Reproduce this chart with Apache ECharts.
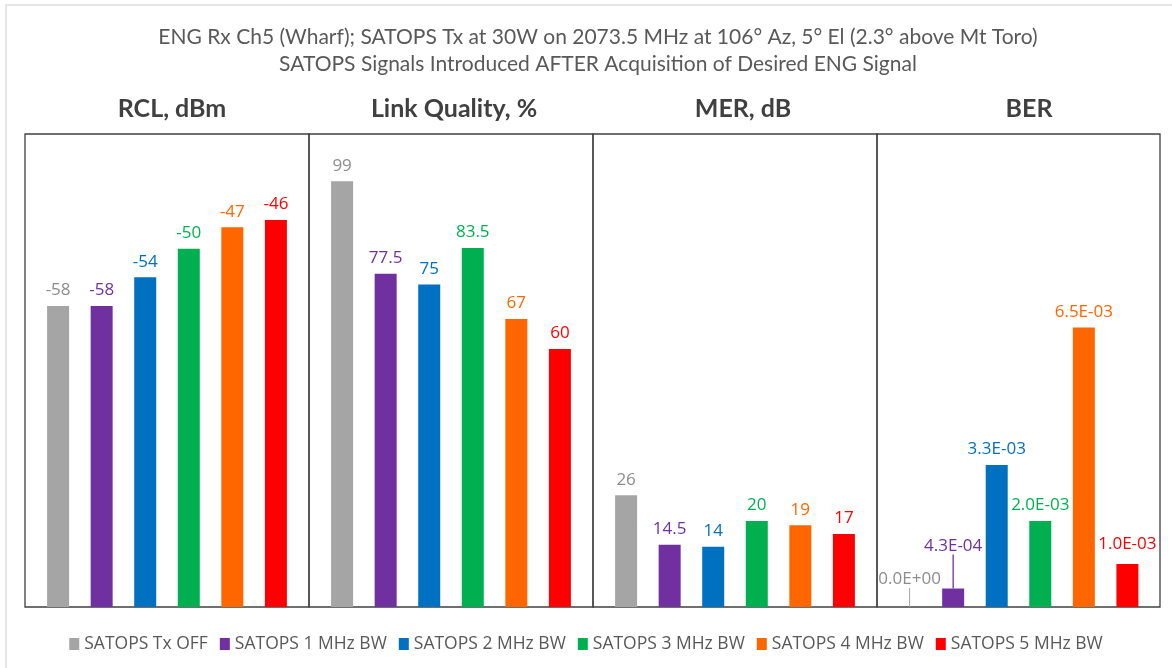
<!DOCTYPE html>
<html>
<head>
<meta charset="utf-8">
<script src="https://cdn.jsdelivr.net/npm/echarts@6/dist/echarts.min.js"></script>
<style>
html,body{margin:0;padding:0;background:#fff;}
#chart{width:1172px;height:668px;}
</style>
</head>
<body>
<div id="chart"></div>
<script>
const seriesNames = ['SATOPS Tx OFF','SATOPS 1 MHz BW','SATOPS 2 MHz BW','SATOPS 3 MHz BW','SATOPS 4 MHz BW','SATOPS 5 MHz BW'];
const seriesColors = ['#A5A5A5','#7030A0','#0070C0','#00B050','#FF6600','#FF0000'];
const labelColors = ['#8C8C8C','#7030A0','#0070C0','#00B050','#FF6600','#FF0000'];
const panelTitles = ['RCL, dBm','Link Quality, %','MER, dB','BER'];
const rclValues = [-58,-58,-54,-50,-47,-46];
const linkQualityValues = [99,77.5,75,83.5,67,60];
const merValues = [26,14.5,14,20,19,17];
const berValues = [0,4.3e-4,3.3e-3,2.0e-3,6.5e-3,1.0e-3];
const titleLines = ['ENG Rx Ch5 (Wharf); SATOPS Tx at 30W on 2073.5 MHz at 106° Az, 5° El (2.3° above Mt Toro)','SATOPS Signals Introduced AFTER Acquisition of Desired ENG Signal'];

const panelData = [rclValues, linkQualityValues, merValues, berValues];
const axisRanges = [{min:-100,max:-34,startValue:-100},{min:0,max:110},{min:0,max:110},{min:0,max:0.011}];
const panelEdges = [25,309,593,877,1160];
const headerCenters = [167,449,738,1024];

function sci(v){
  if (v === 0) return '0.0E+00';
  let e = Math.floor(Math.log10(Math.abs(v)));
  let m = v/Math.pow(10,e);
  if (Math.round(m*10)/10 >= 10){ m/=10; e+=1; }
  const sign = e<0?'-':'+';
  const ae = Math.abs(e);
  return m.toFixed(1)+'E'+sign+(ae<10?'0':'')+ae;
}

const W = 1172, H = 668;
const grids = [], xAxes = [], yAxes = [], series = [];
for (let p=0;p<4;p++){
  grids.push({left:panelEdges[p], width:panelEdges[p+1]-panelEdges[p], top:134, bottom:H-607,
    show:true, borderColor:'#404040', borderWidth:1.3, backgroundColor:'transparent', containLabel:false});
  xAxes.push({type:'category', gridIndex:p, data:[''], axisLine:{show:false}, axisTick:{show:false}, axisLabel:{show:false}, splitLine:{show:false}});
  const ya = Object.assign({type:'value', gridIndex:p, axisLine:{show:false}, axisTick:{show:false}, axisLabel:{show:false}, splitLine:{show:false}}, axisRanges[p]);
  yAxes.push(ya);
  for (let s=0;s<6;s++){
    const ser = {
      type:'bar', name:seriesNames[s], xAxisIndex:p, yAxisIndex:p,
      data:[panelData[p][s]], barWidth:22, barGap:'98%',
      itemStyle:{color:seriesColors[s]},
      label:{show:true, position:'top', distance:7, color:labelColors[s], fontFamily:'Open Sans', fontSize:17,
        formatter: p===3 ? (pr)=>sci(pr.value) : (pr)=>String(pr.value)},
      animation:false
    };
    if (p===3 && s===0){ ser.labelLayout = {dy:-12}; ser.labelLine = {show:true, lineStyle:{color:'#A5A5A5', width:1}}; }
    if (p===3 && s===1){ ser.labelLayout = {dy:-27}; ser.labelLine = {show:true, lineStyle:{color:'#7030A0', width:1.3}}; }
    if (p===3 && s===5){ ser.labelLayout = {dy:-4}; }
    series.push(ser);
  }
}

const titles = [{text:titleLines.join('\n'), left:593, textAlign:'center', top:19,
  textStyle:{fontFamily:'Lato', fontSize:21, fontWeight:'normal', color:'#595959', lineHeight:27}}];
for (let p=0;p<4;p++){
  titles.push({text:panelTitles[p], left:headerCenters[p], textAlign:'center', top:91,
    textStyle:{fontFamily:'Lato', fontSize:25, fontWeight:'bold', color:'#404040'}});
}

const chart = echarts.init(document.getElementById('chart'), null, {renderer:'canvas'});
chart.setOption({
  animation:false,
  backgroundColor:'#fff',
  title:titles,
  legend:{data:seriesNames, bottom:10, left:'center', icon:'rect', itemWidth:10, itemHeight:12, itemGap:12,
    textStyle:{fontFamily:'Open Sans', fontSize:17.5, color:'#595959'}},
  grid:grids, xAxis:xAxes, yAxis:yAxes, series:series,
  graphic:[{type:'polyline', shape:{points:[[6,H+5],[6,5],[W+5,5]]}, style:{stroke:'#E6E6E6', lineWidth:2, fill:null}, silent:true}]
});
</script>
</body>
</html>
